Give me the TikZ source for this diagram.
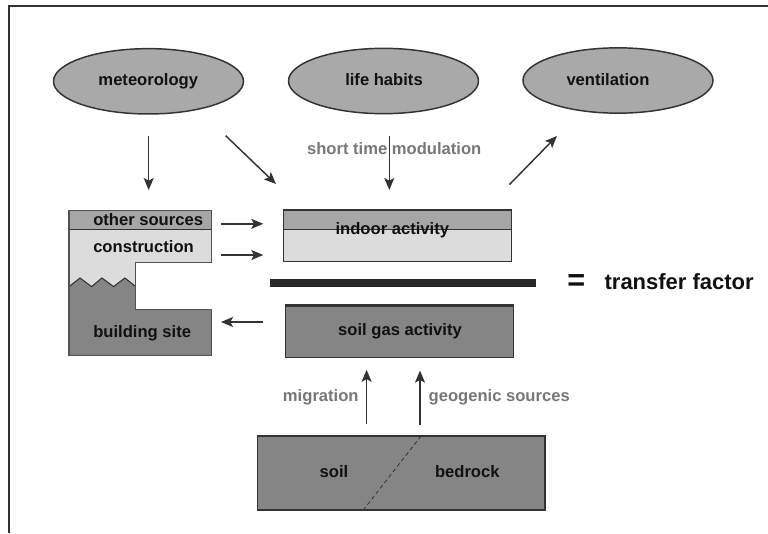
\documentclass[tikz,border=0pt]{standalone}
\usepackage{fontspec}
\setmainfont{Liberation Sans}
\usetikzlibrary{arrows.meta,shapes.geometric}
\definecolor{ellfill}{HTML}{A9A9A9}
\definecolor{midgray}{HTML}{A6A6A6}
\definecolor{lightfill}{HTML}{DCDCDC}
\definecolor{darkfill}{HTML}{858585}
\definecolor{linec}{HTML}{333333}
\definecolor{labelgray}{HTML}{777777}
\definecolor{txtc}{HTML}{111111}
\begin{document}
\begin{tikzpicture}[x=0.75pt,y=-0.75pt,
  txt/.style={font=\fontsize{12.45}{14}\selectfont\bfseries, text=txtc, inner sep=0pt, anchor=base},
  lbl/.style={txt, text=labelgray},
  arr/.style={draw=linec, line width=1.1pt, -{Stealth[length=9pt,width=7.5pt,inset=2pt]}},
  ell/.style={ellipse, draw=linec, line width=1.1pt, fill=ellfill, minimum width=142.5pt, minimum height=49pt, inner sep=0pt},
  box/.style={rectangle, draw=linec, line width=1.1pt, inner sep=0pt}]
\useasboundingbox (0,0) rectangle (768,533);
% frame
\coordinate (fbl) at (9,533);
\coordinate (ftl) at (9,6.3);
\coordinate (ftr) at (768,6.3);
\draw[linec, line width=1.5pt] (fbl) -- (ftl) -- (ftr);

% ellipses
\node[ell] (met) at (148.5,81.3) {};
\node[ell] (life) at (383.5,81) {};
\node[ell] (vent) at (618,80.5) {};
\node[txt] (metT) at (148.3,85.8) {meteorology};
\node[txt] (lifeT) at (384,85.8) {life habits};
\node[txt] (ventT) at (608,85.8) {ventilation};

% top arrows
\coordinate (a1s) at (148.7,135.7); \coordinate (a1e) at (148.7,190);
\coordinate (a2s) at (225.7,135.7); \coordinate (a2e) at (276,184);
\coordinate (a3s) at (389.3,135.7); \coordinate (a3e) at (389.3,190);
\coordinate (a4s) at (509.4,184.6); \coordinate (a4e) at (556.9,136);
\node[lbl] (stm) at (394.2,154.3) {short time modulation};
\draw[arr] (a1s) -- (a1e);
\draw[arr] (a2s) -- (a2e);
\draw[arr] (a3s) -- (a3e);
\draw[arr] (a4s) -- (a4e);

% left compound shape
\fill[midgray] (69,210.5) rectangle (211.6,229.5);
\fill[lightfill] (69,229.5) -- (211.6,229.5) -- (211.6,262.3) -- (135.7,262.3) -- (135.7,286.6)
  -- (124.9,278) -- (113.6,286.6) -- (101.9,278) -- (91.6,286.6) -- (80,278) -- (69,286.6) -- cycle;
\fill[darkfill] (69,286.6) -- (80,278) -- (91.6,286.6) -- (101.9,278) -- (113.6,286.6) -- (124.9,278)
  -- (135.7,286.6) -- (135.7,309.3) -- (211.6,309.3) -- (211.6,355.2) -- (69,355.2) -- cycle;
\draw[linec, line width=0.8pt] (69,286.6) -- (80,278) -- (91.6,286.6) -- (101.9,278) -- (113.6,286.6) -- (124.9,278) -- (135.7,286.6);
\draw[linec, line width=0.8pt] (69,229.5) -- (211.6,229.5);
\draw[linec!85, line width=0.8pt] (69,210.5) -- (211.6,210.5) -- (211.6,262.3) -- (135.7,262.3) -- (135.7,309.3)
  -- (211.6,309.3) -- (211.6,355.2) -- (69,355.2) -- cycle;
\node[txt, anchor=base west] (other) at (93,225.7) {other sources};
\node[txt, anchor=base west] (constr) at (93,252.3) {construction};
\node[txt, anchor=base west] (site) at (93,337) {building site};

% indoor activity
\fill[lightfill] (283.5,210) rectangle (511.3,261.3);
\fill[midgray] (283.5,210) rectangle (511.3,229.5);
\draw[linec, line width=1.1pt] (283.5,229.5) -- (511.3,229.5);
\node[box, minimum width=170.85pt, minimum height=38.5pt] (indoor) at (397.4,235.65) {};
\node[txt] (indoorT) at (392.3,234.7) {indoor activity};

% side arrows
\coordinate (a5s) at (221,223.8); \coordinate (a5e) at (263.3,223.8);
\coordinate (a6s) at (221,255); \coordinate (a6e) at (263.3,255);
\coordinate (a7s) at (263.3,322); \coordinate (a7e) at (221,322);
\draw[arr] (a5s) -- (a5e);
\draw[arr] (a6s) -- (a6e);
\draw[arr] (a7s) -- (a7e);

% transfer bar
\coordinate (barL) at (270.4,283.3);
\coordinate (barR) at (536.3,283.3);
\draw[txtc!90, line width=6pt] (barL) -- (barR);
\node[font=\fontsize{23}{23}\selectfont\bfseries, text=txtc, inner sep=0pt] (eq) at (576.2,282.8) {=};
\node[font=\fontsize{16.5}{18}\selectfont\bfseries, text=txtc, inner sep=0pt, anchor=base] (tf) at (679.2,289.3) {transfer factor};

% soil gas activity
\node[box, fill=darkfill, minimum width=170.85pt, minimum height=38.6pt] (soilgas) at (399.6,331.75) {};
\draw[linec, line width=1.8pt] (soilgas.north west) -- (soilgas.north east);
\node[txt] (soilgasT) at (400,335.2) {soil gas activity};

% bottom arrows
\coordinate (a8s) at (366.6,424.3); \coordinate (a8e) at (366.6,369.8);
\coordinate (a9s) at (420,425); \coordinate (a9e) at (420,370.6);
\draw[arr] (a8s) -- (a8e);
\draw[arr] (a9s) -- (a9e);
\node[lbl] (migr) at (320.8,401.5) {migration};
\node[lbl] (geo) at (499.2,401.3) {geogenic sources};

% soil / bedrock
\node[box, fill=darkfill, minimum width=215.8pt, minimum height=55.5pt] (ground) at (401.15,473) {};
\coordinate (dtop) at (421,436);
\coordinate (dbot) at (363.3,510);
\draw[linec, line width=0.6pt, dash pattern=on 3pt off 2.2pt] (dtop) -- (dbot);
\node[txt] (soilT) at (334,477.3) {soil};
\node[txt] (bedT) at (467.3,477.3) {bedrock};
\end{tikzpicture}
\end{document}
